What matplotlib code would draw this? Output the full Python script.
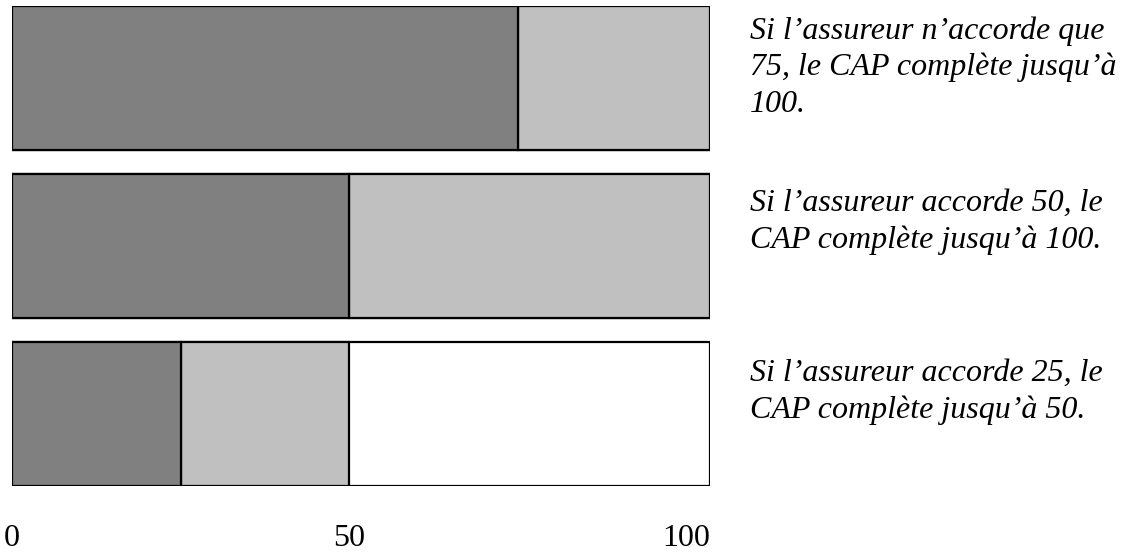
import matplotlib
matplotlib.use("Agg")
import matplotlib.pyplot as plt
from matplotlib.transforms import offset_copy

# Data
scenarios = ["Scénario 1", "Scénario 2", "Scénario 3"]
assureur = [75, 50, 25]
cap_total = [100, 100, 50]
plafond = 100
labels = [
    "Si l\u2019assureur n\u2019accorde que\n75, le CAP compl\u00e8te jusqu\u2019\u00e0\n100.",
    "Si l\u2019assureur accorde 50, le\nCAP compl\u00e8te jusqu\u2019\u00e0 100.",
    "Si l\u2019assureur accorde 25, le\nCAP compl\u00e8te jusqu\u2019\u00e0 50.",
]
xticks = [0, 50, 100]
xticklabels = ["0", "50", "100"]

serif = ["Liberation Serif", "DejaVu Serif"]

# Layout: 0 -> 12 px, 100 -> 686 px; frame extends to 710 px
x_right = (710 - 12) / (686 - 12) * 100

fig = plt.figure(figsize=(11.25, 5.53), dpi=100)
ax = fig.add_axes([12 / 1125, 67 / 553, 698 / 1125, 480 / 553])

ypos = [2, 1, 0]
h = 144 / 168
lw = 1.6
text_drop_px = [10, 15, 17]
for y, a, c, txt, d in zip(ypos, assureur, cap_total, labels, text_drop_px):
    end = x_right if c >= plafond else c
    ax.barh(y, x_right, height=h, left=0, color="white", edgecolor="black", linewidth=lw, zorder=1)
    ax.barh(y, end - a, height=h, left=a, color="#c0c0c0", edgecolor="black", linewidth=lw, zorder=2)
    ax.barh(y, a, height=h, left=0, color="#808080", edgecolor="black", linewidth=lw, zorder=3)
    tr = offset_copy(ax.transData, fig=fig, x=0, y=-d * 72 / 100, units="points")
    ax.text((750 - 12) / (686 - 12) * 100, y + h / 2, txt, ha="left", va="top", fontsize=23,
            style="italic", family=serif, linespacing=1.33, transform=tr)

ax.set_xlim(0, x_right)
ax.set_ylim(-h / 2, 2 + h / 2)
for s in ax.spines.values():
    s.set_visible(False)
ax.set_yticks([])
ax.set_xticks(xticks)
ax.set_xticklabels(xticklabels, fontsize=23, family=serif)
ax.tick_params(axis="x", length=0, pad=27)

fig.savefig("out.png", dpi=100)
